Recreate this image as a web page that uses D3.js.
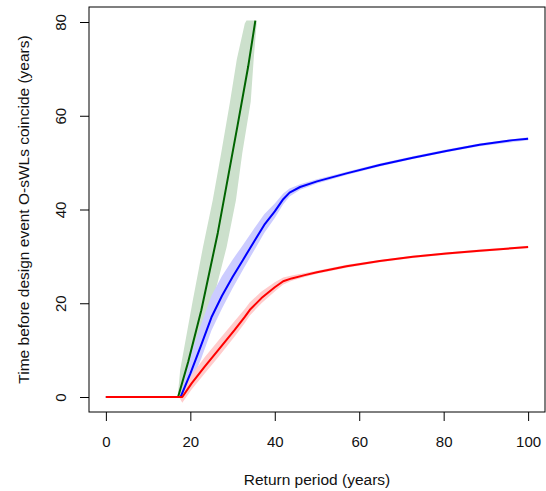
<!DOCTYPE html>
<html>
<head>
<meta charset="utf-8">
<script src="https://cdn.jsdelivr.net/npm/d3@7"></script>
<style>
  body { margin: 0; background: #fff; }
  svg text { font-family: "Liberation Sans", Arial, sans-serif; fill: #111; }
</style>
</head>
<body>
<div id="chart"></div>
<script>
// Axis ticks
const xTicks = [0, 20, 40, 60, 80, 100];
const yTicks = [0, 20, 40, 60, 80];

// Green series (line + ribbon given per time value)
const greenRP = [0, 17.1, 19.5, 22.6, 26.5, 31.2, 33.7, 35.4];
const greenTime = [0, 0, 7.5, 18.5, 35, 58, 70.5, 80.3];
const greenBandTime = [0, 5.8, 20.7, 32, 42, 52, 63, 72, 79.7, 80.3];
const greenBandLo = [17.0, 17.6, 20.6, 23.0, 25.3, 27.3, 29.4, 31.0, 32.9, 33.3];
const greenBandHi = [17.3, 21.6, 25.4, 28.6, 30.8, 32.3, 34.3, 35.0, 35.7, 35.6];

// Blue series
const blueRP = [0, 17.7, 20, 22.5, 25, 27.5, 30, 32.5, 35, 37.5, 40, 42, 43.5, 46, 50,
                57, 64.85, 72.7, 80.6, 88.5, 96.4, 100];
const blueTime = [0, 0, 5.0, 10.9, 17.0, 21.6, 25.6, 29.3, 33.0, 36.7, 39.6, 42.2, 43.6, 44.8, 46.0,
                  47.7, 49.5, 51.05, 52.5, 53.8, 54.8, 55.1];
const blueBandRP = [17.7, 20, 22.5, 25, 27.5, 30, 32.5, 35, 37.5, 40, 42, 43.5, 46, 50,
                    57, 64.85, 72.7, 80.6, 88.5, 100];
const blueBandHi = [0.3, 8.8, 15.4, 21.6, 25.8, 29.3, 32.5, 35.8, 39.0, 41.3, 43.4, 44.5, 45.4, 46.45,
                    48.05, 49.8, 51.35, 52.8, 54.1, 55.4];
const blueBandLo = [-0.3, 2.8, 8.0, 14.2, 18.9, 23.2, 27.2, 31.1, 35.0, 38.2, 41.1, 42.8, 44.2, 45.55,
                    47.35, 49.2, 50.75, 52.2, 53.5, 54.8];

// Red series
const redRP = [0, 18.1, 20.3, 23.4, 26.6, 30.5, 32.9, 34.1, 36.85, 40.0, 42.0, 44.0, 47.1, 50.0,
               57.0, 64.85, 72.7, 80.6, 88.5, 100];
const redTime = [0, 0, 2.9, 6.5, 10.0, 14.3, 17.1, 18.6, 21.1, 23.4, 24.7, 25.3, 26.0, 26.6,
                 27.9, 29.0, 29.9, 30.6, 31.2, 32.0];
const redBandRP = [17.5, 18.1, 20.3, 23.4, 26.6, 30.5, 32.9, 34.1, 36.85, 40, 42, 44, 47.1, 50,
                   57, 64.85, 72.7, 80.6, 88.5, 100];
const redBandHi = [0.3, 1.3, 4.7, 8.5, 12.0, 16.2, 18.8, 20.2, 22.5, 24.5, 25.5, 25.9, 26.45, 26.95,
                   28.2, 29.25, 30.15, 30.85, 31.45, 32.25];
const redBandLo = [-0.3, -1.2, 1.6, 5.0, 8.5, 12.9, 15.8, 17.4, 20.0, 22.5, 24.0, 24.8, 25.6, 26.3,
                   27.6, 28.75, 29.65, 30.35, 30.95, 31.75];

const width = 546, height = 491;
const plot = { left: 89, right: 545, top: 7, bottom: 412 };

const svg = d3.select('#chart').append('svg')
    .attr('width', width)
    .attr('height', height);

// R-style 4% padding around the data range
const x = d3.scaleLinear().domain([-4, 104]).range([plot.left, plot.right]);
const y = d3.scaleLinear().domain([-3.2, 83.2]).range([plot.bottom, plot.top]);

svg.append('clipPath').attr('id', 'clip')
  .append('rect')
    .attr('x', plot.left).attr('y', plot.top)
    .attr('width', plot.right - plot.left).attr('height', plot.bottom - plot.top);

const g = svg.append('g').attr('clip-path', 'url(#clip)');

const zip = (a, b, c) => a.map((v, i) => [v, b[i], c ? c[i] : null]);

// Ribbons
const vBand = d3.area().x(d => x(d[0])).y0(d => y(d[1])).y1(d => y(d[2]));
const hBand = d3.area().y(d => y(d[0])).x0(d => x(d[1])).x1(d => x(d[2]));

g.append('path')
    .attr('d', hBand(zip(greenBandTime, greenBandLo, greenBandHi)))
    .attr('fill', 'rgb(204,224,204)');
g.append('path')
    .attr('d', vBand(zip(blueBandRP, blueBandLo, blueBandHi)))
    .attr('fill', 'rgb(204,204,255)');
g.append('path')
    .attr('d', vBand(zip(redBandRP, redBandLo, redBandHi)))
    .attr('fill', 'rgb(255,204,204)');

// Lines
const line = d3.line().x(d => x(d[0])).y(d => y(d[1]));
[[greenRP, greenTime, '#006400'], [blueRP, blueTime, '#0000ff'], [redRP, redTime, '#ff0000']]
  .forEach(([rp, t, col]) => {
    g.append('path')
        .attr('d', line(zip(rp, t)))
        .attr('fill', 'none')
        .attr('stroke', col)
        .attr('stroke-width', 2)
        .attr('stroke-linejoin', 'round');
  });

// Box
svg.append('rect')
    .attr('x', plot.left).attr('y', plot.top)
    .attr('width', plot.right - plot.left).attr('height', plot.bottom - plot.top)
    .attr('fill', 'none').attr('stroke', '#000').attr('stroke-width', 1);

// Axes
const xAxis = svg.append('g')
    .attr('transform', `translate(0,${plot.bottom})`)
    .call(d3.axisBottom(x).tickValues(xTicks).tickSize(9).tickSizeOuter(0));
xAxis.select('.domain').remove();
xAxis.selectAll('text')
    .attr('y', 35).attr('dy', 0)
    .style('font-size', '15px');

const yAxis = svg.append('g')
    .attr('transform', `translate(${plot.left},0)`)
    .call(d3.axisLeft(y).tickValues(yTicks).tickSize(9).tickSizeOuter(0));
yAxis.select('.domain').remove();
yAxis.selectAll('text')
    .attr('x', 0).attr('dy', 0)
    .attr('text-anchor', 'middle')
    .attr('transform', 'translate(-23.5,0) rotate(-90)')
    .style('font-size', '15px');

svg.selectAll('.tick line').attr('stroke', '#000');

// Axis titles
svg.append('text')
    .attr('x', (plot.left + plot.right) / 2)
    .attr('y', 485)
    .attr('text-anchor', 'middle')
    .style('font-size', '15.5px')
    .text('Return period (years)');

svg.append('text')
    .attr('transform', `translate(28.5,${(plot.top + plot.bottom) / 2}) rotate(-90)`)
    .attr('text-anchor', 'middle')
    .style('font-size', '15.5px')
    .text('Time before design event O-sWLs coincide (years)');
</script>
</body>
</html>
